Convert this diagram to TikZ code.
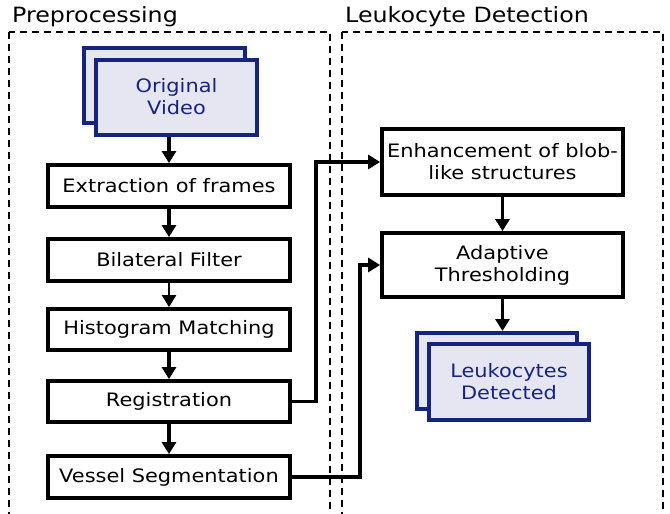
\documentclass[tikz,border=0pt]{standalone}
\usepackage{fontspec}
\setmainfont{DejaVu Sans}[FakeStretch=1.13]
\usetikzlibrary{arrows.meta}
\definecolor{stackfill}{HTML}{E6E6F3}
\definecolor{stackline}{HTML}{15247E}

\begin{document}
\begin{tikzpicture}[x=1pt,y=-1pt,
	stage/.style={draw,line width=3.8pt,minimum width=242pt,minimum height=42pt,
		inner sep=0pt,align=center,font=\fontsize{18.5}{22}\selectfont},
	stack/.style={draw=stackline,fill=stackfill,line width=4pt,minimum width=161pt,
		minimum height=75pt,inner sep=0pt,align=center,text=stackline,
		font=\fontsize{18.5}{22}\selectfont},
	title/.style={anchor=base west,inner sep=0pt,font=\fontsize{21}{25}\selectfont},
	frame/.style={draw,line width=2.6pt,dash pattern=on 7pt off 5pt},
	flow/.style={line width=3.6pt,-{Triangle[width=14pt,length=12pt]}}]
\useasboundingbox (0,0) rectangle (670,514);
\clip (0,0) rectangle (670,514);
% two stages of the pipeline
\draw[frame] (9,32) rectangle (330,530);
\draw[frame] (342,32) rectangle (663,530);
\node[title] (pretitle) at (12,23) {Preprocessing};
\node[title] (dettitle) at (345,23) {Leukocyte Detection};
% preprocessing
\node[stack] (vidback) at (164.5,85.5) {};
\node[stack] (vid) at (176.5,97) {Original\\Video};
\node[stage] (ext) at (169,186) {Extraction of frames};
\node[stage] (bil) at (169,260) {Bilateral Filter};
\node[stage,minimum height=41pt] (his) at (169,329.5) {Histogram Matching};
\node[stage,minimum height=41pt] (reg) at (169,401.5) {Registration};
\node[stage] (ves) at (169,477) {Vessel Segmentation};
% detection
\node[stage,minimum width=241pt,minimum height=66pt] (enh) at (502.5,162)
	{Enhancement of blob-\\like structures};
\node[stage,minimum width=241pt,minimum height=64pt] (adap) at (502.5,265)
	{Adaptive\\Thresholding};
\node[stack,minimum width=160pt,minimum height=76pt] (leukback) at (497,371) {};
\node[stack,minimum width=160pt,minimum height=76pt] (leuk) at (509,382)
	{Leukocytes\\Detected};
% connectors
\draw[flow] (vid.south -| ext.north) -- (ext.north);
\draw[flow] (ext) -- (bil);
\draw[flow,line width=2.2pt] (bil) -- (his);
\draw[flow] (his) -- (reg);
\draw[flow] (reg) -- (ves);
\draw[flow] (reg.east) -- ++(24,0) |- (enh.west);
\draw[flow] (ves.east) -- ++(68,0) |- (adap.west);
\draw[flow] (enh) -- (adap);
\draw[flow] (adap.south) -- (adap.south |- leukback.north);
\end{tikzpicture}
\end{document}
